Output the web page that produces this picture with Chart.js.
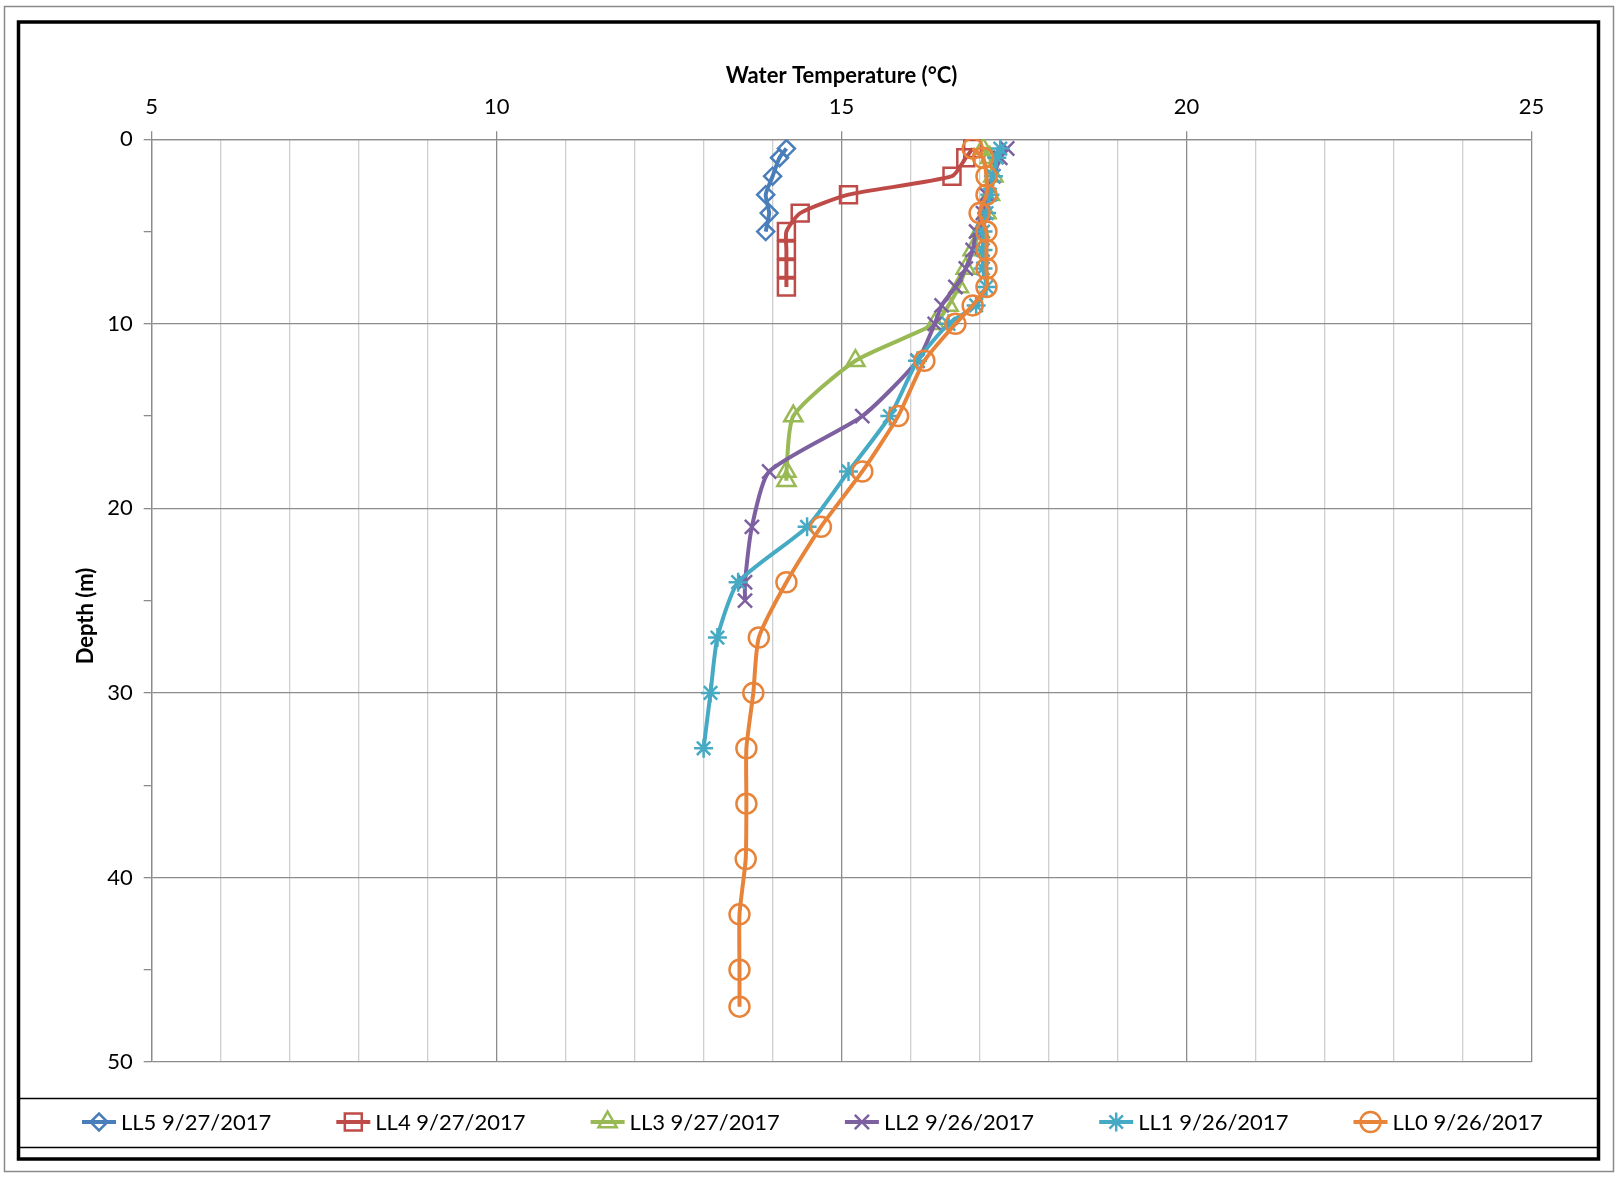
<!DOCTYPE html>
<html>
<head>
<meta charset="utf-8">
<title>Water Temperature Profiles</title>
<script src="https://cdn.jsdelivr.net/npm/chart.js@4.4.0/dist/chart.umd.min.js"></script>
<style>
    html, body { margin: 0; padding: 0; background: #fff; }
    #wrap { width: 1617px; height: 1177px; }
</style>
</head>
<body>
<div id="wrap"><canvas id="tempChart" width="1617" height="1177"></canvas></div>
<script>
// Profile data: depth (m) and water temperature (°C) per station
const labels = ['LL5 9/27/2017', 'LL4 9/27/2017', 'LL3 9/27/2017', 'LL2 9/26/2017', 'LL1 9/26/2017', 'LL0 9/26/2017'];

const ll5Depth = [0.5, 1, 2, 3, 4, 5];
const ll5Temp = [14.2, 14.1, 14.0, 13.9, 13.95, 13.9];

const ll4Depth = [0.5, 1, 2, 3, 4, 5, 6, 7, 8];
const ll4Temp = [16.9, 16.8, 16.6, 15.1, 14.4, 14.2, 14.2, 14.2, 14.2];

const ll3Depth = [0.5, 1, 2, 3, 4, 5, 6, 7, 8, 9, 10, 12, 15, 18, 18.5];
const ll3Temp = [17.05, 17.15, 17.2, 17.15, 17.1, 17.0, 16.9, 16.8, 16.7, 16.55, 16.35, 15.2, 14.3, 14.2, 14.2];

const ll2Depth = [0.5, 1, 2, 3, 4, 5, 6, 7, 8, 9, 10, 12, 15, 18, 21, 24, 25];
const ll2Temp = [17.4, 17.3, 17.2, 17.1, 17.05, 16.95, 16.9, 16.8, 16.65, 16.45, 16.35, 16.1, 15.3, 13.95, 13.7, 13.6, 13.6];

const ll1Depth = [0.5, 1, 2, 3, 4, 5, 6, 7, 8, 9, 10, 12, 15, 18, 21, 24, 27, 30, 33];
const ll1Temp = [17.3, 17.25, 17.2, 17.15, 17.1, 17.05, 17.05, 17.05, 17.1, 16.95, 16.55, 16.1, 15.7, 15.1, 14.5, 13.5, 13.2, 13.1, 13.0];

const ll0Depth = [0.5, 1, 2, 3, 4, 5, 6, 7, 8, 9, 10, 12, 15, 18, 21, 24, 27, 30, 33, 36, 39, 42, 45, 47];
const ll0Temp = [16.9, 17.05, 17.1, 17.1, 17.0, 17.1, 17.1, 17.1, 17.1, 16.9, 16.65, 16.2, 15.82, 15.3, 14.7, 14.2, 13.8, 13.72, 13.62, 13.62, 13.61, 13.52, 13.52, 13.52];

const depths = [ll5Depth, ll4Depth, ll3Depth, ll2Depth, ll1Depth, ll0Depth];
const temps = [ll5Temp, ll4Temp, ll3Temp, ll2Temp, ll1Temp, ll0Temp];

const colors = ['#4A7EBB', '#BE4B48', '#98B954', '#7D60A0', '#46AAC5', '#E8843A'];
const markers = ['rectRot', 'rect', 'triangle', 'crossRot', 'star', 'circle'];
const markerSizes = [8.5, 12, 10.5, 10, 9.5, 10];

const FONT = "Lato, 'Open Sans', sans-serif";

function toPoints(xs, ys) {
    return xs.map((x, i) => ({ x: x, y: ys[i] }));
}

// Frame around chart and legend box, plus the depth axis title
const framePlugin = {
    id: 'frame',
    beforeDraw(chart) {
        const ctx = chart.ctx;
        ctx.save();
        ctx.fillStyle = '#fff';
        ctx.fillRect(0, 0, chart.width, chart.height);
        ctx.strokeStyle = '#8a8a8a';
        ctx.lineWidth = 1.5;
        ctx.strokeRect(4.5, 6.5, 1609, 1165);
        ctx.strokeStyle = '#000';
        ctx.lineWidth = 3.5;
        ctx.strokeRect(18.5, 22, 1580, 1137);
        ctx.lineWidth = 1.5;
        ctx.beginPath();
        ctx.moveTo(18, 1098.5);
        ctx.lineTo(1599, 1098.5);
        ctx.moveTo(18, 1147.5);
        ctx.lineTo(1599, 1147.5);
        ctx.stroke();

        ctx.translate(86, 616);
        ctx.rotate(-Math.PI / 2);
        ctx.fillStyle = '#000';
        ctx.font = 'bold 22px ' + FONT;
        ctx.textAlign = 'center';
        ctx.textBaseline = 'middle';
        ctx.fillText('Depth (m)', 0, 0);
        ctx.restore();
    }
};

// Excel style legend: line sample with marker, then label
const legendPlugin = {
    id: 'excelLegend',
    afterDraw(chart) {
        const ctx = chart.ctx;
        const y = 1122;
        ctx.save();
        chart.data.datasets.forEach((ds, i) => {
            const x0 = 82 + i * 254.3;
            ctx.strokeStyle = ds.borderColor;
            ctx.lineWidth = 4;
            ctx.beginPath();
            ctx.moveTo(x0, y);
            ctx.lineTo(x0 + 34, y);
            ctx.stroke();
            ctx.fillStyle = 'rgba(0,0,0,0)';
            ctx.lineWidth = 2.5;
            Chart.helpers.drawPoint(ctx, {
                pointStyle: ds.pointStyle,
                radius: ds.pointRadius,
                rotation: 0,
                borderWidth: 2.5
            }, x0 + 17, y);
            ctx.fillStyle = '#000';
            ctx.font = '22px ' + FONT;
            ctx.textBaseline = 'middle';
            ctx.textAlign = 'left';
            ctx.fillText(ds.label, x0 + 39, y + 1);
        });
        ctx.restore();
    }
};

const datasets = labels.map((label, i) => ({
    label: label,
    data: toPoints(temps[i], depths[i]),
    showLine: true,
    borderColor: colors[i],
    borderWidth: 4,
    tension: 0.2,
    pointStyle: markers[i],
    pointRadius: markerSizes[i],
    pointBorderWidth: 2.5,
    pointBorderColor: colors[i],
    pointBackgroundColor: 'rgba(0,0,0,0)',
    order: labels.length - i
}));

new Chart(document.getElementById('tempChart'), {
    type: 'scatter',
    data: { datasets: datasets },
    plugins: [framePlugin, legendPlugin],
    options: {
        responsive: false,
        animation: false,
        devicePixelRatio: 1,
        layout: { padding: { left: 20, top: 30, right: 85.5, bottom: 115 } },
        plugins: {
            legend: { display: false },
            tooltip: { enabled: false }
        },
        scales: {
            x: {
                type: 'linear',
                position: 'top',
                min: 5,
                max: 25,
                ticks: {
                    stepSize: 1,
                    autoSkip: false,
                    maxRotation: 0,
                    padding: 11,
                    color: '#000',
                    font: { family: FONT, size: 22 },
                    callback: v => (v % 5 === 0 ? v : '')
                },
                grid: {
                    color: c => (c.tick && c.tick.value % 5 === 0 ? '#8c8c8c' : '#cfcfcf'),
                    tickColor: c => (c.tick && c.tick.value % 5 === 0 ? '#8c8c8c' : 'rgba(0,0,0,0)'),
                    tickLength: 8,
                    lineWidth: 1.3
                },
                border: { color: '#8c8c8c', width: 1.3 },
                title: {
                    display: true,
                    text: 'Water Temperature (°C)',
                    color: '#000',
                    font: { family: FONT, size: 22, weight: 'bold' },
                    padding: { top: 33, bottom: 0 }
                },
                afterFit: scale => { scale.height = 109.3; }
            },
            y: {
                type: 'linear',
                reverse: true,
                min: 0,
                max: 50,
                ticks: {
                    stepSize: 5,
                    autoSkip: false,
                    padding: 11,
                    color: '#000',
                    font: { family: FONT, size: 22 },
                    callback: v => (v % 10 === 0 ? v : '')
                },
                grid: {
                    color: c => (c.tick && c.tick.value % 10 === 0 ? '#8c8c8c' : 'rgba(0,0,0,0)'),
                    tickColor: '#8c8c8c',
                    tickLength: 8,
                    lineWidth: 1.3
                },
                border: { color: '#8c8c8c', width: 1.3 },
                afterFit: scale => { scale.width = 131.7; }
            }
        }
    }
});
</script>
</body>
</html>
